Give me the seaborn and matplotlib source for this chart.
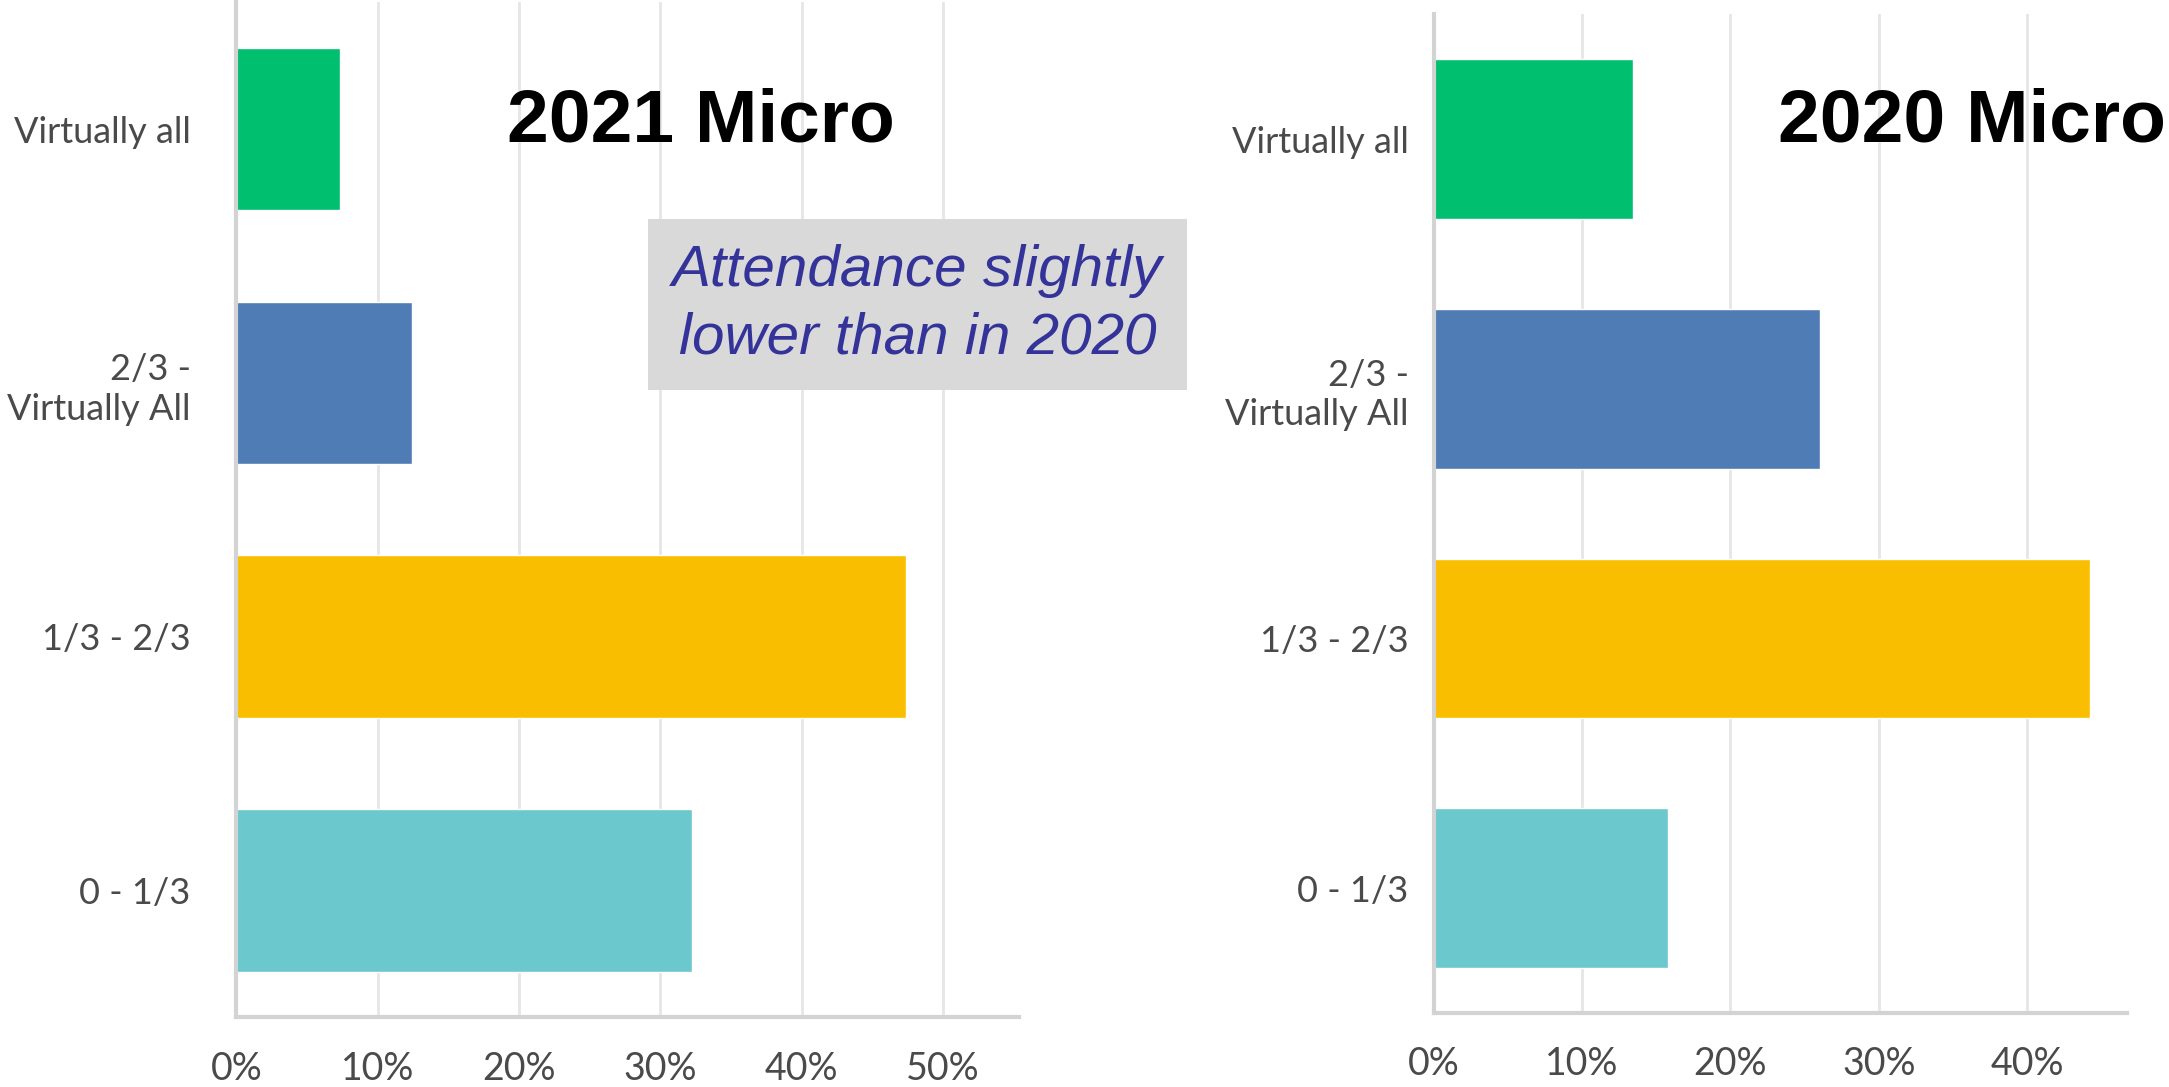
import numpy as np
import pandas as pd
import matplotlib
matplotlib.use("Agg")
import matplotlib.pyplot as plt
from matplotlib.ticker import FuncFormatter
import seaborn as sns

#### Données
categories = ["Virtually all", "2/3 -\nVirtually All", "1/3 - 2/3", "0 - 1/3"]
vals_2021 = [7.3, 12.4, 47.4, 32.2]
vals_2020 = [13.4, 26.0, 44.2, 15.8]
ticks_2021 = [0, 10, 20, 30, 40, 50]
ticks_2020 = [0, 10, 20, 30, 40]
couleurs = ["#00bf6f", "#507cb6", "#f9be00", "#6bc8cd"]

sns.set_theme(style="white")
plt.rcParams['font.family'] = ['Lato', 'DejaVu Sans']

fig = plt.figure(figsize=(21.69, 10.87), dpi=100)
ax1 = fig.add_axes([0.109, 0.064, 0.361, 0.934])
ax2 = fig.add_axes([0.661, 0.068, 0.3195, 0.919])


def barres(ax, valeurs, ticks, xmax, ypad):
    """
    Barres horizontales façon SurveyMonkey
    """
    df = pd.DataFrame({"cat": categories, "val": valeurs})
    sns.barplot(data=df, x="val", y="cat", hue="cat", palette=couleurs,
                legend=False, ax=ax, width=0.64, saturation=1)
    ax.set_xlim(0, xmax)
    ax.set_ylim(3.5, -0.5)
    ax.set_xticks(ticks)
    ax.xaxis.set_major_formatter(FuncFormatter(lambda v, p: f"{int(v)}%"))
    ax.grid(axis="x", color="#e6e6e6", linewidth=2)
    ax.set_axisbelow(True)
    for s in ["top", "right"]:
        ax.spines[s].set_visible(False)
    for s in ["left", "bottom"]:
        ax.spines[s].set_color("#d3d3d3")
        ax.spines[s].set_linewidth(3)
    ax.tick_params(axis="x", length=0, pad=24, labelsize=27, labelcolor="#4a4a4a")
    ax.tick_params(axis="y", length=0, pad=ypad, labelsize=26, labelcolor="#4a4a4a")
    for lab in ax.get_yticklabels():
        lab.set_multialignment("right")
        lab.set_linespacing(1.25)
    ax.set_xlabel("")
    ax.set_ylabel("")


barres(ax1, vals_2021, ticks_2021, 55.4, 33)
barres(ax2, vals_2020, ticks_2020, 46.7, 18)

fig.text(0.323, 0.888, "2021 Micro", fontsize=54, fontweight="bold",
         family="Liberation Sans", ha="center", va="center", color="black")
fig.text(0.909, 0.888, "2020 Micro", fontsize=54, fontweight="bold",
         family="Liberation Sans", ha="center", va="center", color="black")
fig.text(0.423, 0.72, "Attendance slightly\nlower than in 2020", fontsize=42,
         style="italic", family="Liberation Sans", color="#333399",
         ha="center", va="center", linespacing=1.32,
         bbox=dict(boxstyle="square,pad=0.42", facecolor="#d9d9d9", edgecolor="none"))

fig.savefig("out.png", dpi=100)
